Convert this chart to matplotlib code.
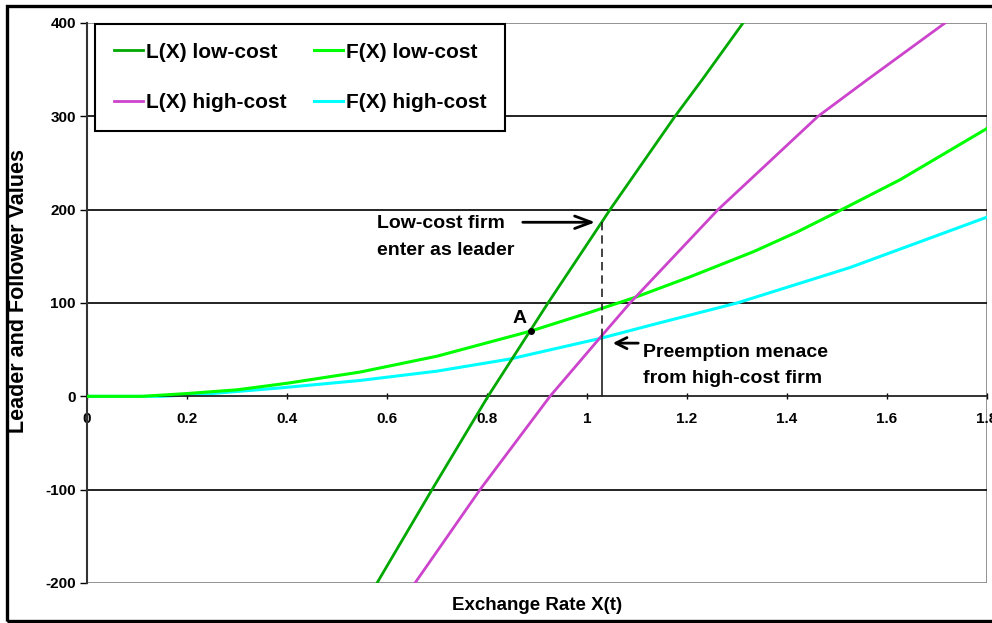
import matplotlib.pyplot as plt
from matplotlib.patches import Rectangle

plt.rcParams['font.family'] = ['Liberation Sans', 'DejaVu Sans']
plt.rcParams['font.weight'] = 'bold'
plt.rcParams['axes.unicode_minus'] = False

# Curve samples
l_low_x = [0.58, 0.69, 0.802, 0.886, 0.922, 1.03, 1.046, 1.176, 1.23, 1.312]
l_low_y = [-200, -100, 0, 70, 100, 187, 200, 300, 339, 400]

l_high_x = [0.656, 0.786, 0.926, 1.028, 1.086, 1.262, 1.462, 1.56, 1.716]
l_high_y = [-200, -100, 0, 64, 100, 200, 300, 339, 400]

f_low_x = [0, 0.11, 0.2, 0.3, 0.4, 0.546, 0.7, 0.888, 1.006, 1.096, 1.206, 1.333, 1.42, 1.502, 1.626, 1.8]
f_low_y = [0, 0, 3, 7, 14, 26, 43, 70, 90, 106, 128, 155, 176, 198, 232, 287]

f_high_x = [0, 0.15, 0.25, 0.386, 0.546, 0.7, 0.846, 1.026, 1.14, 1.3, 1.526, 1.8]
f_high_y = [0, 0, 3, 9, 17, 27, 40, 62, 78, 100, 138, 192]

x_ticks = [0, 0.2, 0.4, 0.6, 0.8, 1, 1.2, 1.4, 1.6, 1.8]
x_tick_labels = ['0', '0.2', '0.4', '0.6', '0.8', '1', '1.2', '1.4', '1.6', '1.8']
y_ticks = [-200, -100, 0, 100, 200, 300, 400]

entry_x = 1.03        # low-cost leader entry point
entry_l = 187
entry_f = 63
point_a = (0.888, 70)

fig = plt.figure(figsize=(9.92, 6.23), dpi=100)
ax = fig.add_axes([87 / 992, 40 / 623, 900 / 992, 560 / 623])

# grid lines
for yv in [-100, 100, 200, 300]:
    ax.axhline(yv, color='#111111', lw=1.3, zorder=1)

h1, = ax.plot(l_low_x, l_low_y, color='#00A800', lw=2, label='L(X) low-cost', zorder=3)
h2, = ax.plot(f_low_x, f_low_y, color='#00FF00', lw=2.2, label='F(X) low-cost', zorder=3)
h3, = ax.plot(l_high_x, l_high_y, color='#CC44CC', lw=2, label='L(X) high-cost', zorder=3)
h4, = ax.plot(f_high_x, f_high_y, color='#00FFFF', lw=2.2, label='F(X) high-cost', zorder=2)

# entry line: dashed above the high-cost follower curve, solid below
ax.plot([entry_x, entry_x], [entry_l, entry_f], color='#222222', lw=1.2, ls=(0, (5, 3)), zorder=4)
ax.plot([entry_x, entry_x], [entry_f, 0], color='#222222', lw=1.2, zorder=4)

ax.plot(*point_a, 'o', color='black', ms=4, zorder=5)
ax.text(0.866, 83, 'A', fontsize=14, fontweight='bold', ha='center', va='center')

ax.annotate('', xy=(1.022, 186.5), xytext=(0.866, 186.5),
            arrowprops=dict(arrowstyle='->,head_length=1.2,head_width=0.45', color='black', lw=2))
ax.text(0.58, 171, 'Low-cost firm\nenter as leader', fontsize=14, fontweight='bold',
        ha='left', va='center', linespacing=1.75)

ax.annotate('', xy=(1.046, 57), xytext=(1.108, 57),
            arrowprops=dict(arrowstyle='->,head_length=0.8,head_width=0.4', color='black', lw=2))
ax.text(1.112, 33, 'Preemption menace\nfrom high-cost firm', fontsize=14, fontweight='bold',
        ha='left', va='center', linespacing=1.75)

ax.set_xlim(0, 1.8)
ax.set_ylim(-200, 400)
ax.set_xticks(x_ticks)
ax.set_xticklabels(x_tick_labels)
ax.set_yticks(y_ticks)

for side in ['top', 'right']:
    ax.spines[side].set_visible(False)
ax.spines['bottom'].set_position(('data', 0))
ax.spines['bottom'].set_color('#222222')
ax.spines['bottom'].set_linewidth(1.3)
ax.spines['left'].set_color('#333333')
ax.spines['left'].set_linewidth(1.5)
ax.add_patch(Rectangle((0, 0), 1, 1, transform=ax.transAxes, fill=False,
                       edgecolor='#8a8a8a', lw=1.3, zorder=0))

ax.tick_params(axis='x', direction='inout', length=5, pad=9, labelsize=11, width=1)
ax.tick_params(axis='y', direction='out', length=5, pad=3, labelsize=11, width=1)
for lab in ax.get_xticklabels() + ax.get_yticklabels():
    lab.set_fontweight('bold')

ax.set_xlabel('Exchange Rate X(t)', fontsize=13.5, fontweight='bold')
ax.xaxis.set_label_coords(0.5, -0.025)
ax.set_ylabel('Leader and Follower Values', fontsize=15.5, fontweight='bold')
ax.yaxis.set_label_coords(-0.0645, 0.521)

leg = ax.legend([h1, h3, h2, h4], [h.get_label() for h in [h1, h3, h2, h4]],
                loc='upper left', bbox_to_anchor=(8 / 900, 1 - 1 / 560), borderaxespad=0,
                ncol=2, fontsize=15, fancybox=False, edgecolor='black', framealpha=1,
                handlelength=1.4, handletextpad=0.15, columnspacing=1.3,
                labelspacing=1.5, borderpad=0.9)
leg.get_frame().set_linewidth(1.5)
for t in leg.get_texts():
    t.set_fontweight('bold')

# outer black frame (right side runs off the image)
fig.add_artist(Rectangle((7 / 992, 2 / 623), 1.05, 615 / 623, transform=fig.transFigure,
                         fill=False, edgecolor='black', lw=2.4))

fig.savefig('out.png', dpi=100)
